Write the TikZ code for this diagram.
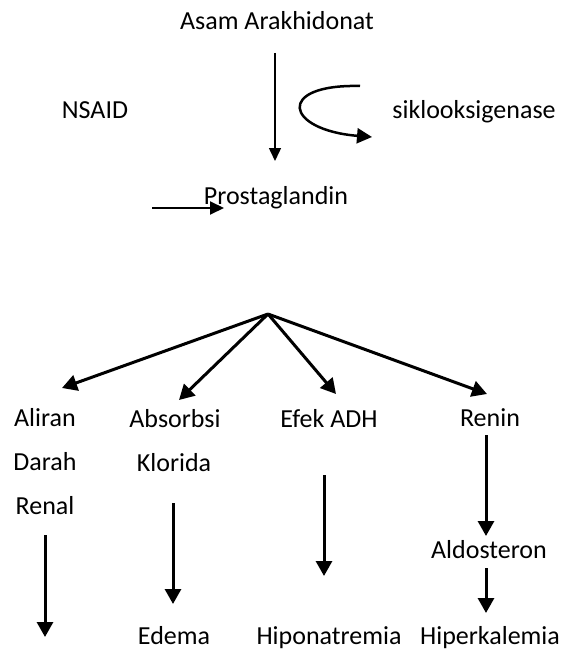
\documentclass[tikz,border=0pt]{standalone}
\usepackage{fontspec}
\setmainfont{Carlito}
\usetikzlibrary{arrows.meta}
\begin{document}
\begin{tikzpicture}[x=1pt,y=-1pt,
  lbl/.style={anchor=base,inner sep=0pt,font=\fontsize{26}{31}\selectfont},
  thin arrow/.style={line width=1.5pt,-{Triangle[width=12pt,length=13pt]}},
  thick arrow/.style={line width=3pt,-{Triangle[width=16pt,length=15pt]}},
  mid arrow/.style={line width=2pt,-{Triangle[width=13pt,length=14pt]}}]
\useasboundingbox (0,0) rectangle (571,650);
% texts
\node[lbl] (asam) at (277,30) {Asam Arakhidonat};
\node[lbl] (nsaid) at (95,119) {NSAID};
\node[lbl] (siklo) at (474,118) {siklooksigenase};
\node[lbl] (prosta) at (276,204) {Prostaglandin};
\node[lbl] (aliran) at (45,426) {Aliran};
\node[lbl] (darah) at (45,470) {Darah};
\node[lbl] (renal) at (45,514) {Renal};
\node[lbl] (absorbsi) at (175,427) {Absorbsi};
\node[lbl] (klorida) at (174,471) {Klorida};
\node[lbl] (efek) at (329,427) {Efek ADH};
\node[lbl] (renin) at (490,426) {Renin};
\node[lbl] (aldo) at (489,558) {Aldosteron};
\node[lbl] (edema) at (174,644) {Edema};
\node[lbl] (hipona) at (329,644) {Hiponatremia};
\node[lbl] (hiperk) at (490,644) {Hiperkalemia};
% connector ends
\coordinate (a1) at (275,53);
\coordinate (a2) at (275,161);
\coordinate (c1) at (360,86);
\coordinate (c2) at (372,137);
\coordinate (h1) at (152,208);
\coordinate (h2) at (224,208);
\coordinate (br) at (268,314);
\coordinate (t1) at (62,388);
\coordinate (t2) at (179,400);
\coordinate (t3) at (336,394);
\coordinate (t4) at (487,394);
\coordinate (v1s) at (45,535);
\coordinate (v1e) at (45,637);
\coordinate (v2s) at (173,503);
\coordinate (v2e) at (173,604);
\coordinate (v3s) at (324,475);
\coordinate (v3e) at (324,576);
\coordinate (v4s) at (486,435);
\coordinate (v4e) at (486,536);
\coordinate (v5s) at (486,568);
\coordinate (v5e) at (486,613);
% arrows
\draw[thin arrow] (a1) -- (a2);
\draw[line width=2.5pt,-{Triangle[width=15pt,length=15pt]}] (c1) .. controls (275,84) and (285,130) .. (c2);
\draw[mid arrow] (h1) -- (h2);
\draw[thick arrow] (br) -- (t1);
\draw[thick arrow] (br) -- (t2);
\draw[thick arrow] (br) -- (t3);
\draw[thick arrow] (br) -- (t4);
\draw[thick arrow] (v1s) -- (v1e);
\draw[thick arrow] (v2s) -- (v2e);
\draw[thick arrow] (v3s) -- (v3e);
\draw[thick arrow] (v4s) -- (v4e);
\draw[thick arrow] (v5s) -- (v5e);
\end{tikzpicture}
\end{document}
